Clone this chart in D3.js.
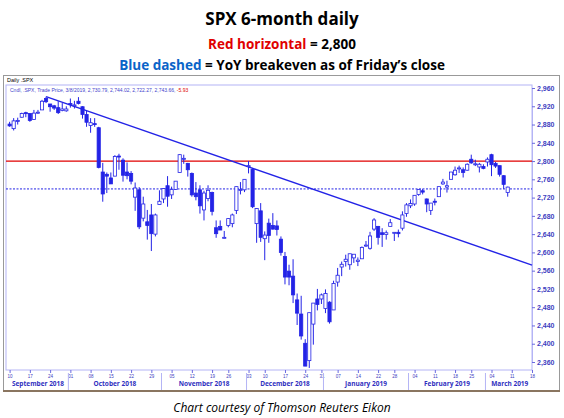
<!DOCTYPE html>
<html><head><meta charset="utf-8">
<script src="https://cdn.jsdelivr.net/npm/d3@7"></script>
<style>body{margin:0;background:#fff;font-family:"Open Sans",Arial,sans-serif}</style>
</head><body><div id="chart"></div>
<script>
// trading days Sep 10 2018 - Mar 8 2019 (then a few future days for the axis)
const days = ["2018-09-10","2018-09-11","2018-09-12","2018-09-13","2018-09-14","2018-09-17","2018-09-18","2018-09-19","2018-09-20","2018-09-21","2018-09-24","2018-09-25","2018-09-26","2018-09-27","2018-09-28",
"2018-10-01","2018-10-02","2018-10-03","2018-10-04","2018-10-05","2018-10-08","2018-10-09","2018-10-10","2018-10-11","2018-10-12","2018-10-15","2018-10-16","2018-10-17","2018-10-18","2018-10-19","2018-10-22","2018-10-23","2018-10-24","2018-10-25","2018-10-26","2018-10-29","2018-10-30","2018-10-31",
"2018-11-01","2018-11-02","2018-11-05","2018-11-06","2018-11-07","2018-11-08","2018-11-09","2018-11-12","2018-11-13","2018-11-14","2018-11-15","2018-11-16","2018-11-19","2018-11-20","2018-11-21","2018-11-23","2018-11-26","2018-11-27","2018-11-28","2018-11-29","2018-11-30",
"2018-12-03","2018-12-04","2018-12-06","2018-12-07","2018-12-10","2018-12-11","2018-12-12","2018-12-13","2018-12-14","2018-12-17","2018-12-18","2018-12-19","2018-12-20","2018-12-21","2018-12-24","2018-12-26","2018-12-27","2018-12-28","2018-12-31",
"2019-01-02","2019-01-03","2019-01-04","2019-01-07","2019-01-08","2019-01-09","2019-01-10","2019-01-11","2019-01-14","2019-01-15","2019-01-16","2019-01-17","2019-01-18","2019-01-22","2019-01-23","2019-01-24","2019-01-25","2019-01-28","2019-01-29","2019-01-30","2019-01-31",
"2019-02-01","2019-02-04","2019-02-05","2019-02-06","2019-02-07","2019-02-08","2019-02-11","2019-02-12","2019-02-13","2019-02-14","2019-02-15","2019-02-19","2019-02-20","2019-02-21","2019-02-22","2019-02-25","2019-02-26","2019-02-27","2019-02-28",
"2019-03-01","2019-03-04","2019-03-05","2019-03-06","2019-03-07","2019-03-08",
"2019-03-11","2019-03-12","2019-03-13","2019-03-14","2019-03-15","2019-03-18"];

const open = [2881,2871,2888,2896,2906,2904,2891,2906,2912,2937,2925,2921,2917,2911,2910,
2926,2923,2931,2919,2902,2878,2882,2873,2776,2771,2763,2767,2811,2802,2776,2773,2721,2737,2675,2667,2682,2640,2705,
2717,2746,2726,2738,2775,2806,2795,2773,2730,2737,2693,2718,2731,2654,2657,2633,2659,2663,2692,2736,2737,
2790,2782,2663,2691,2630,2664,2659,2658,2629,2591,2559,2548,2496,2465,2401,2363,2443,2498,2498,
2477,2491,2474,2535,2568,2580,2573,2588,2580,2586,2614,2609,2651,2657,2643,2639,2657,2644,2644,2653,2685,
2702,2706,2727,2735,2717,2692,2712,2722,2750,2743,2760,2770,2784,2781,2780,2804,2792,2787,2788,
2798,2814,2795,2790,2768,2731];
const high = [2886,2894,2895,2906,2908,2905,2912,2912,2934,2941,2925,2923,2931,2927,2920,
2937,2932,2940,2920,2910,2894,2894,2875,2796,2775,2775,2813,2816,2806,2797,2778,2753,2743,2722,2693,2706,2685,2736,
2741,2767,2744,2756,2815,2814,2796,2775,2754,2747,2735,2747,2733,2670,2670,2647,2675,2685,2744,2754,2760,
2800,2785,2697,2708,2646,2674,2686,2670,2635,2601,2573,2585,2510,2505,2410,2468,2489,2520,2510,
2519,2493,2538,2566,2580,2595,2597,2596,2589,2613,2625,2645,2675,2658,2653,2648,2673,2644,2650,2690,2708,
2716,2725,2738,2739,2718,2708,2718,2744,2761,2757,2776,2788,2790,2786,2795,2814,2803,2796,2793,
2808,2816,2798,2790,2769,2744];
const low = [2875,2867,2880,2895,2896,2886,2890,2903,2912,2927,2908,2912,2903,2909,2908,
2917,2915,2924,2893,2875,2862,2875,2784,2711,2730,2750,2767,2781,2755,2760,2749,2691,2651,2668,2628,2603,2635,2705,
2708,2700,2717,2737,2775,2794,2766,2722,2714,2685,2670,2712,2681,2632,2649,2631,2655,2655,2684,2727,2732,
2773,2697,2621,2623,2583,2621,2650,2637,2593,2530,2528,2489,2441,2409,2351,2347,2398,2473,2487,
2467,2444,2474,2525,2548,2569,2562,2577,2570,2586,2612,2606,2647,2617,2612,2628,2657,2625,2633,2648,2678,
2697,2702,2724,2727,2688,2682,2703,2722,2748,2731,2760,2768,2774,2764,2779,2794,2789,2775,2782,
2788,2767,2785,2766,2739,2722];
const close = [2877,2888,2889,2904,2905,2889,2905,2907,2931,2930,2919,2916,2906,2914,2914,
2924,2923,2926,2902,2885,2884,2881,2786,2728,2767,2750,2810,2809,2769,2768,2756,2741,2656,2706,2659,2641,2682,2712,
2740,2723,2738,2756,2814,2806,2781,2726,2722,2702,2730,2736,2690,2641,2649,2633,2674,2682,2744,2738,2760,
2790,2700,2696,2633,2638,2637,2651,2650,2600,2546,2546,2507,2467,2417,2351,2468,2489,2486,2507,
2510,2448,2532,2550,2574,2585,2597,2596,2583,2611,2616,2636,2671,2633,2639,2643,2665,2644,2641,2682,2704,
2707,2725,2738,2732,2706,2708,2710,2744,2754,2746,2776,2780,2785,2775,2793,2796,2794,2793,2784,
2804,2792,2789,2771,2749,2743];

const yTicks = [2360,2400,2440,2480,2520,2560,2600,2640,2680,2720,2760,2800,2840,2880,2920,2960];
const weekTicks = ["2018-09-10","2018-09-17","2018-09-24","2018-10-01","2018-10-08","2018-10-15","2018-10-22","2018-10-29","2018-11-05","2018-11-12","2018-11-19","2018-11-26","2018-12-03","2018-12-10","2018-12-17","2018-12-24","2018-12-31","2019-01-07","2019-01-14","2019-01-22","2019-01-28","2019-02-04","2019-02-11","2019-02-19","2019-02-25","2019-03-04","2019-03-11","2019-03-18"];
const weekLabels = ["10","17","24","01","08","15","22","29","05","12","19","26","03","10","17","24","31","07","14","22","28","04","11","18","25","04","11","18"];
const months = ["September 2018","October 2018","November 2018","December 2018","January 2019","February 2019","March 2019"];
const monthStarts = ["2018-09-10","2018-10-01","2018-11-01","2018-12-03","2019-01-02","2019-02-01","2019-03-01"];
const redLevel = 2800;
const breakeven = 2739;
const trend = [["2018-09-21", 2941], ["2019-03-18", 2572]];

const W = 564, H = 418, blue = "#2323e6";
const svg = d3.select("#chart").append("svg").attr("width", W).attr("height", H)
  .style("font-family", "'Open Sans', Arial, sans-serif");

// titles
svg.append("text").attr("x", 282).attr("y", 25).attr("text-anchor", "middle")
  .attr("font-size", 17).attr("font-weight", "bold").text("SPX 6-month daily");
const t2 = svg.append("text").attr("x", 282).attr("y", 49).attr("text-anchor", "middle")
  .attr("font-size", 13.5).attr("font-weight", "bold");
t2.append("tspan").attr("fill", "#e00000").text("Red horizontal");
t2.append("tspan").text(" = 2,800");
const t3 = svg.append("text").attr("x", 282).attr("y", 70).attr("text-anchor", "middle")
  .attr("font-size", 13.5).attr("font-weight", "bold");
t3.append("tspan").attr("fill", "#0a64c8").text("Blue dashed");
t3.append("tspan").text(" = YoY breakeven as of Friday\u2019s close");

// panel
svg.append("rect").attr("x", 3.5).attr("y", 75.5).attr("width", 556).attr("height", 316)
  .attr("fill", "#fff").attr("stroke", "#999");
svg.append("line").attr("x1", 3).attr("x2", 560).attr("y1", 391).attr("y2", 391).attr("stroke", "#8a7560").attr("stroke-width", 2);
svg.append("text").attr("x", 7).attr("y", 82).attr("font-size", 5.5).attr("font-family", "Arial").text("Daily .SPX");

const plot = { left: 6, right: 532, top: 85, bottom: 370 };
svg.append("rect").attr("x", plot.left).attr("y", plot.top).attr("width", plot.right - plot.left).attr("height", plot.bottom - plot.top)
  .attr("fill", "none").attr("stroke", "#b4b4f5");
svg.append("text").attr("x", 10).attr("y", 92).attr("font-size", 5).attr("fill", "#4444cc").attr("font-family", "Arial")
  .text("Cndl, .SPX, Trade Price, 3/8/2019, 2,730.79, 2,744.02, 2,722.27, 2,743.66, ")
  .append("tspan").attr("fill", "#e00000").text("-5.93");

const idx = d => days.indexOf(d);
const x = d3.scaleLinear().domain([-0.4, days.length - 1]).range([plot.left + 2, plot.right]);
const y = d3.scaleLinear().domain([2360, 2960]).range([362, 88]);

// y axis
const yAxis = svg.append("g").attr("transform", `translate(${plot.right},0)`)
  .call(d3.axisRight(y).tickValues(yTicks).tickSize(3).tickFormat(d3.format(",")));
yAxis.select(".domain").attr("stroke", "#b4b4f5");
yAxis.selectAll(".tick line").attr("stroke", "#6a6ae0");
yAxis.selectAll(".tick text").attr("fill", "#4040c0").attr("font-size", 7).attr("font-weight", "bold").attr("x", 5);

// x axis
const xAxis = svg.append("g").attr("transform", `translate(0,${plot.bottom})`)
  .call(d3.axisBottom(x).tickValues(weekTicks.map(idx)).tickSize(3).tickFormat((d, i) => weekLabels[i]));
xAxis.select(".domain").remove();
xAxis.selectAll(".tick line").attr("stroke", "#6a6ae0");
xAxis.selectAll(".tick text").attr("fill", "#4040c0").attr("font-size", 4.5).attr("y", 5);

const ms = monthStarts.map(d => x(idx(d)) - 2);
ms.push(plot.right + 2);
months.forEach((m, i) => {
  if (i > 0) svg.append("line").attr("x1", ms[i]).attr("x2", ms[i]).attr("y1", 373).attr("y2", 390).attr("stroke", "#b4b4f5");
  svg.append("text").attr("x", (ms[i] + ms[i + 1]) / 2).attr("y", 386).attr("text-anchor", "middle")
    .attr("font-size", 6.5).attr("font-weight", "bold").attr("fill", "#3030c0").text(m);
});

// reference lines
svg.append("line").attr("x1", plot.left).attr("x2", plot.right).attr("y1", y(redLevel)).attr("y2", y(redLevel))
  .attr("stroke", "#e00000").attr("stroke-width", 1.2);
svg.append("line").attr("x1", plot.left).attr("x2", plot.right).attr("y1", y(breakeven)).attr("y2", y(breakeven))
  .attr("stroke", blue).attr("stroke-dasharray", "2,1.5");
svg.append("line")
  .attr("x1", x(idx(trend[0][0]))).attr("y1", y(trend[0][1]))
  .attr("x2", x(idx(trend[1][0]))).attr("y2", y(trend[1][1]))
  .attr("stroke", blue).attr("stroke-width", 1.4);

// candles
const candles = svg.append("g").selectAll("g").data(close).join("g");
candles.append("line")
  .attr("x1", (d, i) => x(i)).attr("x2", (d, i) => x(i))
  .attr("y1", (d, i) => y(high[i])).attr("y2", (d, i) => y(low[i]))
  .attr("stroke", blue);
candles.append("rect")
  .attr("x", (d, i) => x(i) - 1.6).attr("width", 3.2)
  .attr("y", (d, i) => y(Math.max(open[i], d)))
  .attr("height", (d, i) => Math.max(1, Math.abs(y(open[i]) - y(d))))
  .attr("fill", (d, i) => d >= open[i] ? "#fff" : blue)
  .attr("stroke", blue).attr("stroke-width", 0.8);

svg.append("text").attr("x", 282).attr("y", 412).attr("text-anchor", "middle")
  .attr("font-size", 12).attr("font-style", "italic").text("Chart courtesy of Thomson Reuters Eikon");
</script></body></html>
